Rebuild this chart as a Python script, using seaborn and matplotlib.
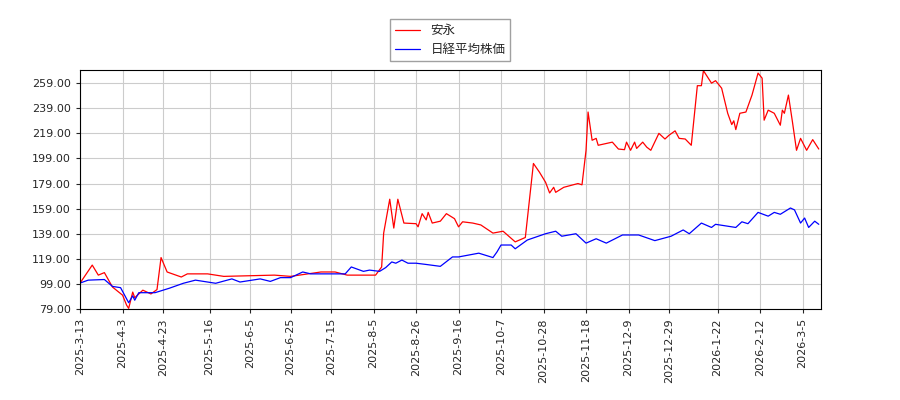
import pandas as pd
import matplotlib
matplotlib.use("Agg")
import matplotlib.pyplot as plt
import seaborn as sns

# 安永 (red)
red_dates = ["2025-03-13", "2025-03-19", "2025-03-22", "2025-03-25", "2025-03-29", "2025-04-03",
             "2025-04-05", "2025-04-06", "2025-04-08", "2025-04-09", "2025-04-13", "2025-04-17",
             "2025-04-20", "2025-04-22", "2025-04-25", "2025-05-02", "2025-05-05", "2025-05-15",
             "2025-05-23", "2025-06-17", "2025-06-25", "2025-07-10", "2025-07-17", "2025-07-23",
             "2025-08-06", "2025-08-09", "2025-08-10", "2025-08-13", "2025-08-15", "2025-08-17",
             "2025-08-20", "2025-08-26", "2025-08-27", "2025-08-29", "2025-08-31", "2025-09-01",
             "2025-09-03", "2025-09-07", "2025-09-10", "2025-09-14", "2025-09-16", "2025-09-18",
             "2025-09-23", "2025-09-27", "2025-10-03", "2025-10-08", "2025-10-14", "2025-10-19",
             "2025-10-23", "2025-10-26", "2025-10-29", "2025-10-31", "2025-11-02", "2025-11-03",
             "2025-11-07", "2025-11-14", "2025-11-16", "2025-11-18", "2025-11-19", "2025-11-21",
             "2025-11-23", "2025-11-24", "2025-12-01", "2025-12-04", "2025-12-07", "2025-12-08",
             "2025-12-10", "2025-12-12", "2025-12-13", "2025-12-16", "2025-12-18", "2025-12-20",
             "2025-12-24", "2025-12-27", "2025-12-29", "2026-01-01", "2026-01-03", "2026-01-06",
             "2026-01-09", "2026-01-12", "2026-01-14", "2026-01-15", "2026-01-19", "2026-01-21",
             "2026-01-24", "2026-01-27", "2026-01-29", "2026-01-30", "2026-01-31", "2026-02-02",
             "2026-02-05", "2026-02-08", "2026-02-11", "2026-02-13", "2026-02-14", "2026-02-16",
             "2026-02-19", "2026-02-22", "2026-02-23", "2026-02-24", "2026-02-26", "2026-02-28",
             "2026-03-02", "2026-03-04", "2026-03-07", "2026-03-10", "2026-03-13"]
red_values = [99.7, 114, 106, 108, 96.5, 90,
              82, 79.5, 92.5, 88, 94, 91,
              94.5, 120, 108.5, 104.5, 107, 107,
              105, 106, 105, 108.5, 108.5, 106,
              106, 112.5, 139.5, 166.5, 143.5, 166.5,
              147.5, 147, 144.5, 155, 150, 156,
              147.5, 149, 155, 151, 144.5, 148.5,
              147.5, 146, 139.5, 141, 132.5, 136,
              195, 188, 180, 171.5, 176, 172,
              176, 179, 178, 205.5, 236, 213.5,
              215, 209.5, 212, 206.5, 206, 212,
              205.5, 212, 207, 212, 208, 205.5,
              219, 214.5, 217.5, 221, 215, 214.5,
              209.5, 257, 257, 269, 259, 261,
              255, 235, 226, 229, 222, 235,
              236, 249.5, 267, 263, 229.5, 237.5,
              235, 225.5, 237.5, 235, 249.5, 228,
              205.5, 215, 205.5, 214, 206.5]

# 日経平均株価 (blue)
blue_dates = ["2025-03-13", "2025-03-17", "2025-03-25", "2025-03-29", "2025-04-02", "2025-04-06",
              "2025-04-08", "2025-04-09", "2025-04-11", "2025-04-19", "2025-04-22", "2025-04-26",
              "2025-05-03", "2025-05-09", "2025-05-19", "2025-05-27", "2025-05-31", "2025-06-10",
              "2025-06-15", "2025-06-20", "2025-06-25", "2025-07-01", "2025-07-05", "2025-07-17",
              "2025-07-22", "2025-07-25", "2025-07-31", "2025-08-03", "2025-08-08", "2025-08-11",
              "2025-08-14", "2025-08-16", "2025-08-19", "2025-08-22", "2025-08-26", "2025-08-31",
              "2025-09-07", "2025-09-13", "2025-09-16", "2025-09-26", "2025-10-03", "2025-10-05",
              "2025-10-07", "2025-10-12", "2025-10-14", "2025-10-20", "2025-10-29", "2025-11-03",
              "2025-11-06", "2025-11-13", "2025-11-18", "2025-11-23", "2025-11-28", "2025-12-06",
              "2025-12-14", "2025-12-22", "2025-12-30", "2026-01-05", "2026-01-08", "2026-01-14",
              "2026-01-19", "2026-01-21", "2026-01-31", "2026-02-03", "2026-02-06", "2026-02-11",
              "2026-02-16", "2026-02-19", "2026-02-22", "2026-02-27", "2026-03-01", "2026-03-04",
              "2026-03-06", "2026-03-08", "2026-03-11", "2026-03-13"]
blue_values = [99.7, 102, 102.5, 97, 96, 84,
               89.5, 86, 92, 92, 93.5, 95.5,
               99.5, 102, 99.5, 103, 100.5, 103,
               101, 104, 104, 108.5, 107, 107,
               107, 112.5, 109, 110, 109, 112,
               116.5, 115.5, 118, 115.5, 115.5, 114.5,
               113, 120.5, 120.5, 123.5, 120, 124.5,
               130, 130, 127, 134, 139, 141,
               137, 139, 131.5, 135, 131.5, 138,
               138, 133.5, 137, 142, 139, 147.5,
               144, 146.5, 144, 148.5, 147, 156,
               153, 156, 154.5, 159.5, 158, 147.5,
               151.5, 144, 149, 146.5]

x_ticks = ["2025-3-13", "2025-4-3", "2025-4-23", "2025-5-16", "2025-6-5", "2025-6-25",
           "2025-7-15", "2025-8-5", "2025-8-26", "2025-9-16", "2025-10-7", "2025-10-28",
           "2025-11-18", "2025-12-9", "2025-12-29", "2026-1-22", "2026-2-12", "2026-3-5"]
y_ticks = [79, 99, 119, 139, 159, 179, 199, 219, 239, 259]

red_df = pd.DataFrame({"date": pd.to_datetime(red_dates), "value": red_values})
blue_df = pd.DataFrame({"date": pd.to_datetime(blue_dates), "value": blue_values})

sns.set_style("white")
plt.rcParams['font.family'] = ['Noto Sans CJK JP', 'DejaVu Sans']

fig = plt.figure(figsize=(9, 4), dpi=100)
ax = fig.add_axes([0.089, 0.2275, 0.823, 0.5975])

sns.lineplot(data=red_df, x="date", y="value", color="red", linewidth=0.9, label="安永", ax=ax)
sns.lineplot(data=blue_df, x="date", y="value", color="blue", linewidth=0.9, label="日経平均株価", ax=ax)

ax.set_xticks(pd.to_datetime(x_ticks))
ax.set_xticklabels(x_ticks, rotation=90, fontsize=8, family=['DejaVu Sans'])
ax.set_xlim(pd.Timestamp("2025-03-13"), pd.Timestamp("2026-03-14"))
ax.set_yticks(y_ticks)
ax.set_yticklabels([f"{v:.2f}" for v in y_ticks], fontsize=8, family=['DejaVu Sans'])
ax.set_ylim(79, 269.5)
ax.set_xlabel("")
ax.set_ylabel("")
ax.grid(True, color="#cccccc", linewidth=0.8)
ax.tick_params(axis="both", length=3, direction="out", bottom=True, left=True)
for s in ax.spines.values():
    s.set_color("black")

ax.legend(loc="upper center", bbox_to_anchor=(0.5, 1.24), fontsize=9, frameon=True,
          fancybox=False, edgecolor="#888888")

fig.savefig("out.png")
